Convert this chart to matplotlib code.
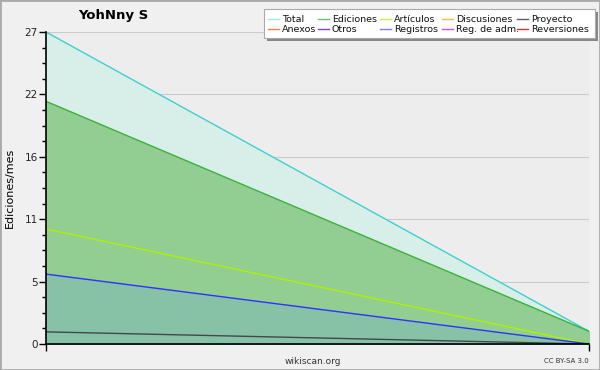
import numpy as np
import matplotlib.pyplot as plt
from matplotlib.patches import Rectangle
from matplotlib.lines import Line2D

# months (two samples)
months = [0, 1]
total = [27.0, 1.1]
ediciones = [21.0, 1.1]
articulos = [9.95, 0.0]
registros = [6.05, 0.0]
proyecto = [1.05, 0.0]

yticks = [0, 5.4, 10.8, 16.2, 21.6, 27]
ytick_labels = ['0', '5', '11', '16', '22', '27']

legend_names = ['Total', 'Anexos', 'Ediciones', 'Otros', 'Artículos', 'Registros',
                'Discusiones', 'Reg. de adm.', 'Proyecto', 'Reversiones']
legend_colors = ['#a8e4e4', '#f08050', '#70c070', '#8040d0', '#c8f040', '#8080f0',
                 '#f0c040', '#d050e0', '#606060', '#e03030']

W, H = 600, 370
plt.rcParams['font.family'] = 'DejaVu Sans'
fig = plt.figure(figsize=(6, 3.7), dpi=100, facecolor='#f0f0f0')
fig.patches.append(Rectangle((0, 0), 1, 1, transform=fig.transFigure, fill=False,
                             edgecolor='#aaaaaa', linewidth=2))
ax = fig.add_axes([46 / W, 26 / H, 543 / W, 312 / H])
ax.set_facecolor('#ededee')

# Fills
ax.fill_between(months, 0, total, color='#d8efe9', zorder=1)
ax.fill_between(months, 0, ediciones, color='#92cd92', zorder=2)
ax.fill_between(months, 0, registros, color='#87c2a6', zorder=3)

# Lines
ax.plot(months, total, color='#40d0d0', lw=1, zorder=5)
ax.plot(months, ediciones, color='#3cb43c', lw=1, zorder=5)
ax.plot(months, articulos, color='#b0f000', lw=1, zorder=5)
ax.plot(months, registros, color='#3030ff', lw=1, zorder=5)
ax.plot(months, proyecto, color='#404850', lw=1, zorder=5)

ax.set_xlim(0, 1)
ax.set_ylim(0, 27)
ax.set_yticks(yticks)
ax.set_yticklabels(ytick_labels, fontsize=7.5, color='#222222')
ax.set_yticks(np.arange(0, 27.01, 1.35), minor=True)
ax.set_xticks([0, 1])
ax.set_xticklabels(['', ''])
ax.tick_params(axis='y', which='major', length=5, width=1, pad=1)
ax.tick_params(axis='y', which='minor', length=3, width=1)
ax.tick_params(axis='x', length=5, width=1, direction='out')
ax.grid(axis='y', which='major', color='#cccccc', lw=0.8, zorder=0)
ax.set_axisbelow(True)
for s in ['top', 'right']:
    ax.spines[s].set_visible(False)
for s in ['left', 'bottom']:
    ax.spines[s].set_linewidth(1.2)
    ax.spines[s].set_zorder(10)

ax.set_ylabel('Ediciones/mes', fontsize=8, labelpad=7)
fig.text(113 / W, 1 - 15 / H, 'YohNny S', ha='center', va='center',
         fontsize=9.5, fontweight='bold')
fig.text(313 / W, 1 - 361 / H, 'wikiscan.org', ha='center', va='center',
         fontsize=6.5, color='#333333')
fig.text(589 / W, 1 - 361 / H, 'CC BY-SA 3.0', ha='right', va='center',
         fontsize=5, color='#333333')

# legend box drawn by hand (pixel layout)
def fx(px):
    return px / W

def fy(py):
    return 1 - py / H

fig.patches.append(Rectangle((fx(267), fy(41)), fx(595) - fx(264), fy(9) - fy(38),
                             transform=fig.transFigure, facecolor='#888888',
                             edgecolor='none', zorder=20))
fig.patches.append(Rectangle((fx(264), fy(38)), fx(595) - fx(264), fy(9) - fy(38),
                             transform=fig.transFigure, facecolor='white',
                             edgecolor='#aaaaaa', linewidth=0.8, zorder=21))
col_x = [268, 318, 380, 442, 517]
row_y = [19, 29]
for i, (name, col) in enumerate(zip(legend_names, legend_colors)):
    cx = col_x[i // 2]
    ry = row_y[i % 2]
    fig.lines.append(Line2D([fx(cx), fx(cx + 11)], [fy(ry), fy(ry)],
                            transform=fig.transFigure, color=col, lw=1, zorder=22))
    fig.text(fx(cx + 14), fy(ry), name, ha='left', va='center', fontsize=6.8,
             color='#111111', zorder=23)

fig.savefig('out.png', dpi=100, facecolor=fig.get_facecolor())
